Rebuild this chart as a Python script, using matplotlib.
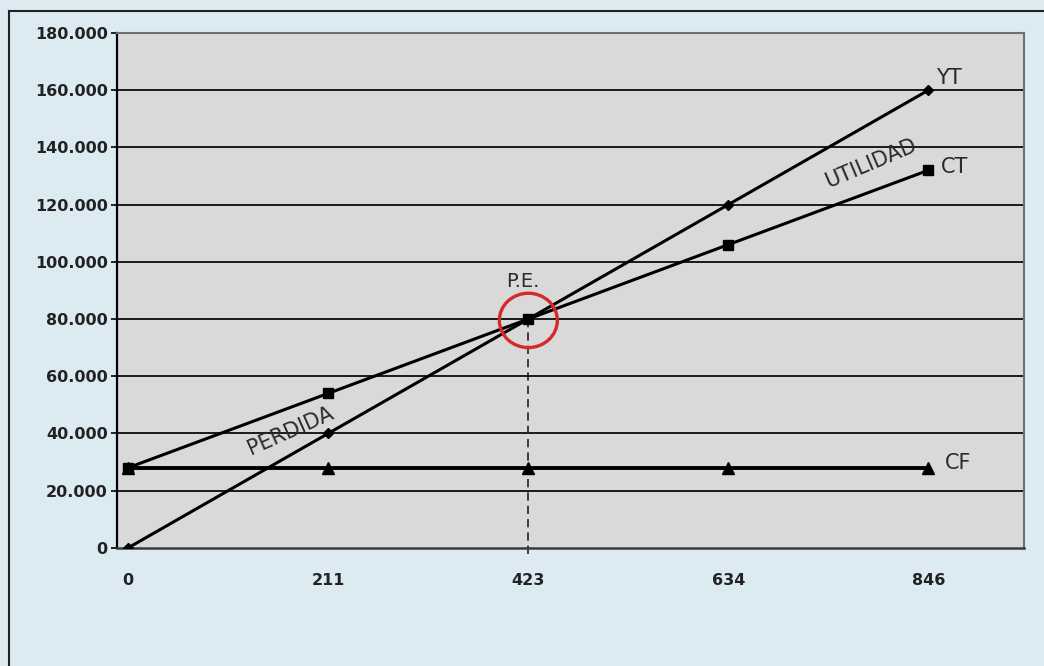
import numpy as np
import matplotlib.pyplot as plt
from matplotlib.lines import Line2D
from matplotlib.patches import Ellipse

# Data
categorias = ['0', '211', '423', '634', '846']
yt = [0, 40000, 80000, 120000, 160000]
ct = [28000, 54000, 80000, 106000, 132000]
cf = [28000, 28000, 28000, 28000, 28000]
y_ticks = [0, 20000, 40000, 60000, 80000, 100000, 120000, 140000, 160000, 180000]
y_labels = ['0', '20.000', '40.000', '60.000', '80.000', '100.000',
            '120.000', '140.000', '160.000', '180.000']
pe_idx = 2

x = np.arange(len(categorias))

fig = plt.figure(figsize=(10.44, 6.66), dpi=100, facecolor='#dcebf2')
ax = fig.add_axes([0.1125, 0.1775, 0.868, 0.773])
ax.set_facecolor('#d9d9d9')

# gridlines
for t in y_ticks[1:]:
    ax.axhline(t, color='#1a1a1a', lw=1.4, zorder=1)

ax.plot(x, yt, color='black', lw=2.2, marker='D', ms=5, zorder=3)
ax.plot(x, ct, color='black', lw=2.2, marker='s', ms=6.5, zorder=3)
ax.plot(x, cf, color='black', lw=2.8, marker='^', ms=8, zorder=3)

# break-even dashed line (runs a little below the axis)
ax.plot([x[pe_idx], x[pe_idx]], [-2200, yt[pe_idx]], color='#222222', lw=1.2,
        ls=(0, (5, 3)), zorder=2, clip_on=False)

ax.set_xlim(-0.054, 4.476)
ax.set_ylim(0, 180000)
ax.set_xticks(x)
ax.set_xticklabels(categorias)
ax.set_yticks(y_ticks)
ax.set_yticklabels(y_labels)
ax.tick_params(axis='y', length=4, width=1.2, labelsize=11.5, pad=3)
ax.tick_params(axis='x', length=0, labelsize=11.5, pad=18)
for lab in ax.get_xticklabels() + ax.get_yticklabels():
    lab.set_fontweight('bold')
    lab.set_color('#222222')

for side in ['top', 'right']:
    ax.spines[side].set_color('#707070')
    ax.spines[side].set_linewidth(1.5)
ax.spines['left'].set_color('black')
ax.spines['left'].set_linewidth(1.6)
ax.spines['bottom'].set_color('#3a3a3a')
ax.spines['bottom'].set_linewidth(1.8)

# labels at the series ends
txt = dict(fontsize=15, va='center', ha='center', color='#2a2a2a')
ax.text(4.10, 164300, 'YT', **txt)
ax.text(4.13, 133100, 'CT', **txt)
ax.text(4.15, 29600, 'CF', **txt)
ax.text(1.97, 93000, 'P.E.', fontsize=14, va='center', ha='center', color='#2a2a2a')
ax.text(3.71, 134500, 'UTILIDAD', rotation=23, **txt)
ax.text(0.81, 40800, 'PERDIDA', rotation=24, **txt)

# red circle around break-even point
circ = Ellipse((x[pe_idx], yt[pe_idx] - 500), width=0.29, height=19000,
               fill=False, edgecolor='#d42a2a', lw=2.4, zorder=4)
ax.add_patch(circ)

# outer border (top and left)
fig.add_artist(Line2D([9 / 1044, 9 / 1044], [0, 1 - 11 / 666], color='#222222', lw=1.5))
fig.add_artist(Line2D([9 / 1044, 1], [1 - 11 / 666, 1 - 11 / 666], color='#222222', lw=1.5))

fig.savefig('out.png', dpi=100, facecolor=fig.get_facecolor())
